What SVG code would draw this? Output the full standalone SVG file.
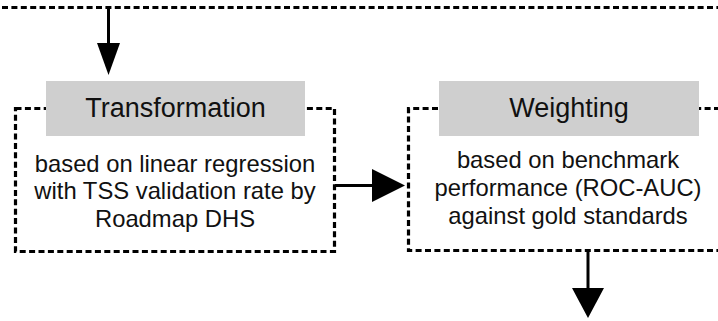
<svg xmlns="http://www.w3.org/2000/svg" width="718" height="321" viewBox="0 0 718 321">
<style>
.dash{fill:none;stroke:#000;stroke-width:3.2;stroke-dasharray:6 3.4}
.hdr{fill:#cfcfcf}
.title{font-family:"Liberation Sans",Arial,sans-serif;font-size:27px;fill:#111;text-anchor:middle}
.body{font-family:"Liberation Sans",Arial,sans-serif;font-size:23.8px;fill:#111;text-anchor:middle}
.line{stroke:#000;stroke-width:3;fill:none}
.head{fill:#000}
</style>
<rect width="718" height="321" fill="#fff"/>
<g id="top-box">
<line class="dash" x1="2" y1="7.5" x2="718" y2="7.5"/>
</g>
<g id="transformation">
<rect class="dash" x="15.5" y="108.5" width="319" height="143"/>
<rect class="hdr" x="46" y="81" width="259" height="55"/>
<text class="title" x="175.5" y="117">Transformation</text>
<text class="body" x="175" y="172">based on linear regression</text>
<text class="body" x="175" y="199">with TSS validation rate by</text>
<text class="body" x="175" y="227">Roadmap DHS</text>
</g>
<g id="weighting">
<path class="dash" d="M720,108.5 H408.5 V250.5 H720"/>
<rect class="hdr" x="439" y="81" width="260" height="55"/>
<text class="title" x="569" y="117">Weighting</text>
<text class="body" x="568" y="168">based on benchmark</text>
<text class="body" x="568" y="196">performance (ROC-AUC)</text>
<text class="body" x="568" y="224">against gold standards</text>
</g>
<g id="connectors">
<line class="line" x1="108.5" y1="8" x2="108.5" y2="45"/>
<polygon class="head" points="97,43 120,43 108.5,75"/>
<line class="line" x1="335" y1="185.5" x2="374" y2="185.5"/>
<polygon class="head" points="372,169 372,202 405,185.5"/>
<line class="line" x1="588" y1="251" x2="588" y2="290"/>
<polygon class="head" points="572,288 604,288 588,318"/>
</g>
</svg>
